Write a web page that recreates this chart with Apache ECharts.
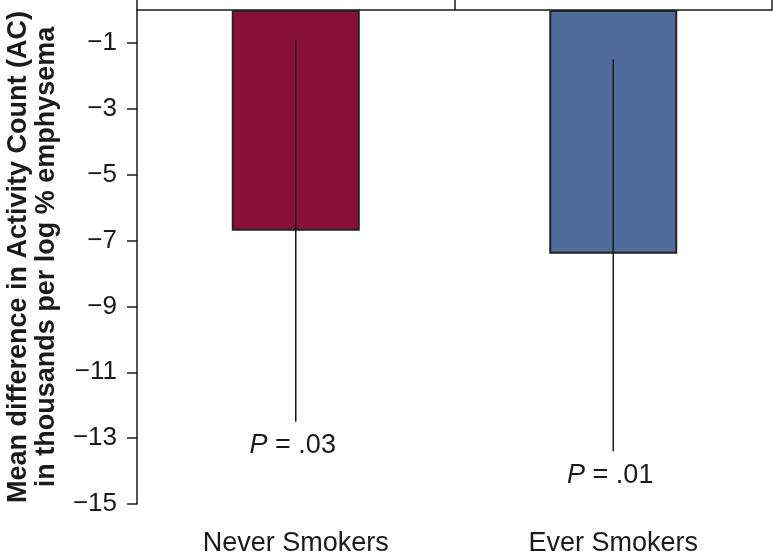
<!DOCTYPE html>
<html>
<head>
<meta charset="utf-8">
<script src="https://cdn.jsdelivr.net/npm/echarts@6/dist/echarts.min.js"></script>
<style>
  html, body { margin: 0; padding: 0; background: #fff; }
  .chart { width: 773px; height: 557px; }
</style>
</head>
<body>
<div class="chart"></div>
<script>
const groups = ['Never Smokers', 'Ever Smokers'];
const meanDiff = [-6.7, -7.4];
const ciUpper = [-0.9, -1.5];
const ciLower = [-12.5, -13.4];
const pValues = ['.03', '.01'];
const barColors = ['#8a1039', '#4e6b99'];
const yTicks = [-1, -3, -5, -7, -9, -11, -13, -15];

const font = '"Liberation Sans", Arial, Helvetica, sans-serif';
const ink = '#1a1a1a';

function init(className, option = {}) {
  const dom = document.getElementsByClassName(className)[0];
  const chart = echarts.init(dom);
  chart.setOption(option);
  window.addEventListener('resize', chart.resize);
  return chart;
}

const errData = groups.map((g, i) => [i, ciUpper[i], ciLower[i], pValues[i]]);

init('chart', {
  animation: false,
  textStyle: { fontFamily: font, color: ink },
  grid: { left: 137, right: 1, top: 10, bottom: 53, outerBoundsMode: 'none', containLabel: false },
  xAxis: [
    {
      type: 'category',
      data: groups,
      position: 'top',
      axisLine: { onZero: false, lineStyle: { color: ink, width: 1.5 } },
      axisTick: { show: true, length: 12, lineStyle: { color: ink, width: 1.5 } },
      axisLabel: { show: false }
    },
    {
      type: 'category',
      data: groups,
      position: 'bottom',
      axisLine: { show: false, onZero: false },
      axisTick: { show: false },
      axisLabel: { fontSize: 27, color: ink, margin: 26, fontFamily: font }
    }
  ],
  yAxis: {
    type: 'value',
    min: -15,
    max: 0,
    interval: 2,
    name: 'Mean difference in Activity Count (AC)\nin thousands per log % emphysema',
    nameLocation: 'middle',
    nameRotate: 90,
    nameGap: 76,
    nameTextStyle: { fontSize: 27, fontWeight: 'bold', lineHeight: 28, color: ink, fontFamily: font },
    splitLine: { show: false },
    axisLine: { show: true, lineStyle: { color: ink, width: 1.5 } },
    axisTick: { show: true, length: 10, customValues: yTicks, lineStyle: { color: ink, width: 1.5 } },
    axisLabel: {
      customValues: yTicks,
      fontSize: 26,
      color: ink,
      margin: 20,
      fontFamily: font,
      formatter: v => (v === 0 ? '' : String(v).replace('-', '\u2212'))
    }
  },
  series: [
    {
      type: 'bar',
      xAxisIndex: 0,
      barWidth: 128,
      data: meanDiff.map((v, i) => ({
        value: v,
        itemStyle: { color: barColors[i], borderColor: '#222', borderWidth: 2 }
      }))
    },
    {
      type: 'custom',
      xAxisIndex: 0,
      z: 5,
      data: errData,
      encode: { x: 0, y: [1, 2] },
      renderItem: (params, api) => {
        const top = api.coord([api.value(0), api.value(1)]);
        const bot = api.coord([api.value(0), api.value(2)]);
        return {
          type: 'group',
          children: [
            {
              type: 'line',
              shape: { x1: top[0], y1: top[1], x2: bot[0], y2: bot[1] },
              style: { stroke: ink, lineWidth: 1.5 }
            },
            {
              type: 'text',
              x: bot[0] - 3,
              y: bot[1] + 24,
              style: {
                text: '{i|P} = ' + pValues[params.dataIndex],
                align: 'center',
                verticalAlign: 'middle',
                fontSize: 27,
                fontFamily: font,
                fill: ink,
                rich: { i: { fontStyle: 'italic', fontSize: 27, fontFamily: font, fill: ink } }
              }
            }
          ]
        };
      }
    }
  ]
});
</script>
</body>
</html>
